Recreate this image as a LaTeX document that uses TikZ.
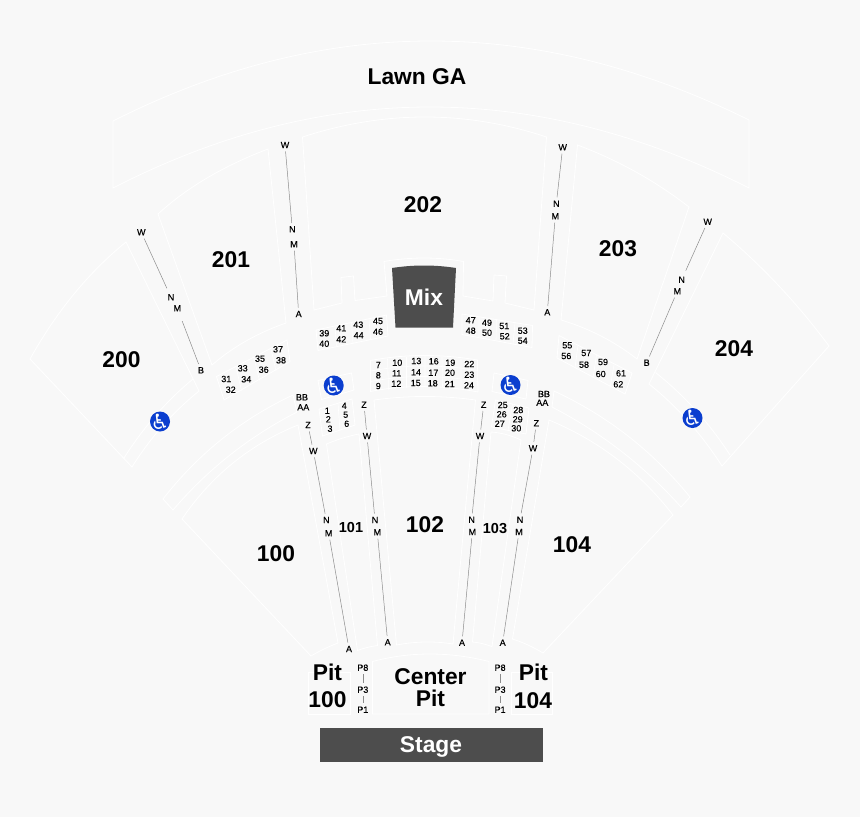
\documentclass[tikz,border=0pt]{standalone}
\usepackage{fontspec}
\setmainfont{Liberation Sans}
\newfontfamily\symfont{DejaVu Sans}
\newfontfamily\smallfont[FakeBold=0.25]{Liberation Sans}
\usetikzlibrary{calc}
\definecolor{pagebg}{HTML}{F8F8F8}
\definecolor{darkbox}{HTML}{4D4D4D}
\definecolor{adablue}{HTML}{0B3ECF}
\newcommand{\arcvia}[3]{.. controls ($1.3333*(#2)-0.3333*(#3)$) and ($1.3333*(#2)-0.3333*(#1)$) .. (#3)}
\newcommand{\adamark}{\makebox[0pt]{\smash{\raisebox{-7.5pt}{♿}}}}
\tikzset{
	outline/.style={draw=white,line width=0.8pt,line join=miter},
	divider/.style={draw=white,line width=0.6pt},
	aisle/.style={draw=black!45,line width=0.5pt},
	section/.style={font=\fontsize{22.8}{24}\bfseries\selectfont,inner sep=0pt,align=center},
	smallsection/.style={font=\fontsize{14.5}{16}\bfseries\selectfont,inner sep=0pt},
	seat/.style={font=\smallfont\fontsize{9}{9}\selectfont,inner sep=0pt},
	rowlabel/.style={font=\smallfont\fontsize{9}{9}\selectfont,inner sep=3pt},
	ada/.style={circle,fill=adablue,text=white,minimum size=20pt,inner sep=0pt,font=\symfont\fontsize{21}{21}\selectfont},
}
\begin{document}
\begin{tikzpicture}[x=1pt,y=-1pt]
	\fill[pagebg] (0,0) rectangle (860,817);
	\useasboundingbox (0,0) rectangle (860,817);
	% Lawn
	\draw[outline] (113,121) \arcvia{113,121}{430,41}{749,120} -- (749,188) \arcvia{749,188}{430,107}{113,188} -- cycle;
	% Upper sections
	\draw[outline] (302.5,137) \arcvia{302.5,137}{425,117}{546.5,137} -- (534,310) -- (505,303) -- (506.5,276) -- (494,275) -- (493,301) -- (463,296) -- (463.5,261.5) \arcvia{463.5,261.5}{424,258}{384,261.5} -- (387,296) -- (355,300.5) -- (353.5,276) -- (341,277.5) -- (342,303) -- (314,310) -- cycle;
	\draw[outline] (158,214) \arcvia{158,214}{207,178}{268,149} -- (286,323) \arcvia{286,323}{246,341}{212,365} -- cycle;
	\draw[outline] (577.5,145) \arcvia{577.5,145}{636,172}{689,207} -- (637,359) \arcvia{637,359}{601,336}{561,320} -- cycle;
	\draw[outline] (126,242) \arcvia{126,242}{74,294}{30,359} -- (132,467) \arcvia{132,467}{162.5,426}{199,391} -- cycle;
	\draw[outline] (193,379) \arcvia{193,379}{156,415}{124,458};
	\draw[outline] (723,233) \arcvia{723,233}{779,286}{829,346} -- (722,466) \arcvia{722,466}{688,421}{649,384} -- cycle;
	\draw[outline] (655.5,372.5) \arcvia{655.5,372.5}{696,410.5}{730,455};
	% Lower sections
	\draw[outline] (293,395) \arcvia{293,395}{222,439}{163,499} -- (173,510) \arcvia{173,510}{230,455}{297,412} -- cycle;
	\draw[outline] (554,391) \arcvia{554,391}{628,436}{690,497} -- (681,507) \arcvia{681,507}{621,451}{552,407} -- cycle;
	\draw[outline] (298,425) \arcvia{298,425}{233,463}{182,519} -- (311,656) \arcvia{311,656}{324,649}{338,643} -- cycle;
	\draw[outline] (549,420) \arcvia{549,420}{617,459}{673,515} -- (543,653) \arcvia{543,653}{528,645}{512.5,639} -- cycle;
	\draw[outline] (326.5,444) \arcvia{326.5,444}{343,438}{359,434} -- (377.5,645.5) \arcvia{377.5,645.5}{367,647.5}{357.5,650.5} -- cycle;
	\draw[outline] (491,432) \arcvia{491,432}{506,434.5}{521,440} -- (492,646.5) \arcvia{492,646.5}{482,643.5}{472.5,642} -- cycle;
	\draw[outline] (374,400) \arcvia{374,400}{425,396.5}{475.5,400} -- (453,644) \arcvia{453,644}{425,642}{396.5,645} -- cycle;
	% Pits
	\draw[outline] (372.5,714) -- (372.5,661.5) \arcvia{372.5,661.5}{430,654}{489,661.5} -- (489,714) -- cycle;
	\draw[outline] (308,672) rectangle (350,714);
	\draw[outline] (511.5,672) rectangle (552.5,714);
	% Seat blocks
	\draw[outline] (216.5,376.5) -- (287,340) -- (290,361.5) -- (224,400) -- cycle;
	\draw[divider] (236,367) -- (241.5,390.5) (254,358) -- (259.5,380.5) (271,349) -- (276,371);
	\draw[outline] (316,330) -- (386.5,315) -- (388,336) -- (318,350.5) -- cycle;
	\draw[divider] (335,326.5) -- (336.5,346.5) (351.5,323) -- (353,343) (369,319) -- (370.5,339);
	\draw[outline] (462,314) -- (532.5,325.5) -- (532,347.5) -- (462,334.5) -- cycle;
	\draw[divider] (479,316.5) -- (479,337) (496.5,319) -- (496,340) (515,323) -- (513,344);
	\draw[outline] (559,335.5) -- (632,373) -- (625,394) -- (557,358) -- cycle;
	\draw[divider] (578,345) -- (575,368) (596.5,355) -- (593,378) (614,365) -- (610,388);
	\draw[outline] (370.5,360.5) \arcvia{370.5,360.5}{423,355.5}{477.5,360} -- (478,392) \arcvia{478,392}{423,386.5}{370.5,391.5} -- cycle;
	\draw[divider] (371,371) \arcvia{371,371}{423,366}{478,370.5} (371,381.5) \arcvia{371,381.5}{423,376.5}{478,381.5};
	\draw[divider] (387.5,358.5) -- (388.5,389.5) (406.5,357) -- (406.5,387.5) (425,356) -- (425,386.5) (442,356.5) -- (442.5,387) (461,358.5) -- (461,389.5);
	\draw[outline] (319,409) -- (352,399) -- (355,425) -- (322.5,436) -- cycle;
	\draw[divider] (338,403.5) -- (340,430.5);
	\draw[outline] (495.5,400) -- (529,408) -- (526,434) -- (491.5,427) -- cycle;
	\draw[divider] (512.5,404) -- (508,430.5);
	\draw[outline] (318,380.5) -- (351.5,373) -- (354,390) -- (321.5,399.5) -- cycle;
	\draw[outline] (494,373) -- (528,380.5) -- (526,399) -- (492,391.5) -- cycle;
	% Dark boxes
	\fill[darkbox] (392,268) \arcvia{392,268}{424,265.5}{456,268} -- (453,327.5) -- (395.5,327.5) -- cycle;
	\path (424,297) node [section,text=white] (mix) {Mix};
	\fill[darkbox] (320,728) rectangle (542.5,761.5);
	\path (431,747) node [section,text=white] (stage) {Stage};
	% Section names
	\path (417,77) node [section] (lawn) {Lawn GA};
	\path (423,205) node [section] (sec202) {202};
	\path (231,260) node [section] (sec201) {201};
	\path (618,248.5) node [section] (sec203) {203};
	\path (121.5,359.5) node [section] (sec200) {200};
	\path (734,349) node [section] (sec204) {204};
	\path (276,554) node [section] (sec100) {100};
	\path (425,525) node [section] (sec102) {102};
	\path (572,544.5) node [section] (sec104) {104};
	\path (351,527.5) node [smallsection] (sec101) {101};
	\path (495,529) node [smallsection] (sec103) {103};
	\path (327.5,672.5) node [section] (pitl) {Pit};
	\path (327.5,700) node [section] (pitla) {100};
	\path (533.5,672.5) node [section] (pitr) {Pit};
	\path (533,700.5) node [section] (pitra) {104};
	\path (430.5,676.5) node [section] (centera) {Center};
	\path (430.5,698.5) node [section] (centerb) {Pit};
	% Seat numbers
	\foreach \x/\y/\n in {
		327.3/410.7/1,328.3/419.3/2,330/428.7/3,344.3/405.7/4,345.7/414.7/5,346.7/423.7/6,
		378.3/365/7,378.3/375.3/8,378.3/386/9,397.3/362.7/10,396.7/373.3/11,396.3/383.7/12,
		416.3/361/13,416/372.3/14,415.7/383/15,433.7/361.3/16,433.3/372.7/17,432.7/383.3/18,
		450.3/362.7/19,450/372.7/20,449.7/384/21,469.3/364/22,469.3/374.7/23,469/385.3/24,
		502.7/405/25,501.7/414.3/26,499.7/423.7/27,518.3/410/28,517.7/419.3/29,516.3/428.3/30,
		226.3/379/31,230.7/389.7/32,242.7/368.3/33,246.3/379.3/34,260/358.7/35,263.7/369.7/36,278/349.3/37,281/360.3/38,
		324.3/333.3/39,324.3/343.7/40,341.3/328.3/41,341.3/339.3/42,358.3/324.7/43,358.7/335.3/44,378/321/45,378/331.7/46,
		470.7/320.3/47,470.7/330.7/48,487/322.7/49,487/332.7/50,504.3/326/51,504.7/336.3/52,522.7/330.7/53,522.7/340.7/54,
		567.3/345.3/55,566.3/356/56,586.3/353/57,584/364.7/58,603/362/59,600.7/374/60,621/373.3/61,618.3/384.3/62}{
		\path (\x,\y) node [seat] (seat\n) {\n};
	}
	% Upper aisles
	\path (285,145) node [rowlabel] (wb) {W};
	\path (292.3,229.3) node [rowlabel] (nb) {N};
	\path (294,244.3) node [rowlabel] (mb) {M};
	\path (298.7,314) node [rowlabel] (ab) {A};
	\draw[aisle] (wb) -- (nb);
	\draw[aisle] (mb) -- (ab);
	\path (141.3,232.3) node [rowlabel] (wa) {W};
	\path (171,297.3) node [rowlabel] (na) {N};
	\path (177.3,308.3) node [rowlabel] (ma) {M};
	\path (201,370.3) node [rowlabel] (ba) {B};
	\draw[aisle,shorten >=3pt] (wa) -- (na);
	\draw[aisle,shorten <=7pt] (ma) -- (ba);
	\path (562.7,147.3) node [rowlabel] (wc) {W};
	\path (556.3,203.7) node [rowlabel] (nc) {N};
	\path (555.3,216.3) node [rowlabel] (mc) {M};
	\path (547.3,312.3) node [rowlabel] (ac) {A};
	\draw[aisle] (wc) -- (nc);
	\draw[aisle] (mc) -- (ac);
	\path (707.7,221.7) node [rowlabel] (wd) {W};
	\path (681.7,279.7) node [rowlabel] (nd) {N};
	\path (677.3,291.3) node [rowlabel] (md) {M};
	\path (646.7,362.7) node [rowlabel] (bd) {B};
	\draw[aisle,shorten >=3pt] (wd) -- (nd);
	\draw[aisle] (md) -- (bd);
	% Lower aisles
	\path (302,397.3) node [rowlabel] (bbl) {BB};
	\path (303.3,407.3) node [rowlabel] (aal) {AA};
	\path (544,394) node [rowlabel] (bbr) {BB};
	\path (542.3,402.7) node [rowlabel] (aar) {AA};
	\foreach \s/\zx/\zy/\wx/\wy/\nx/\ny/\mx/\my/\ax/\ay in {
		e/308/425/313.3/451/326.3/520/328.7/533.3/349/649,
		f/364/404.7/367/436/375/520/377.3/532.3/387.7/642.3,
		g/483.7/404.7/480/436/471.7/519.7/472.3/532/462/642.7,
		h/536.3/423.3/533/448.3/520/519.7/519/532/502.7/642.7}{
		\path (\zx,\zy) node [rowlabel] (z\s) {Z};
		\path (\wx,\wy) node [rowlabel] (w\s) {W};
		\path (\nx,\ny) node [rowlabel] (n\s) {N};
		\path (\mx,\my) node [rowlabel] (m\s) {M};
		\path (\ax,\ay) node [rowlabel] (a\s) {A};
		\draw[aisle] (z\s) -- (w\s);
		\draw[aisle] (w\s) -- (n\s);
		\draw[aisle] (m\s) -- (a\s);
	}
	% Pit rows
	\foreach \s/\x in {l/362.8,r/500.1}{
		\path (\x,667.7) node [rowlabel] (peight\s) {P8};
		\path (\x,689.7) node [rowlabel] (pthree\s) {P3};
		\path (\x,709.7) node [rowlabel] (pone\s) {P1};
		\draw[aisle] (peight\s) -- (pthree\s);
		\draw[aisle] (pthree\s) -- (pone\s);
	}
	% Wheelchair marks
	\path (333.7,385.5) node [ada] (adaa) {\adamark};
	\path (510.5,385) node [ada] (adab) {\adamark};
	\path (160,421.5) node [ada] (adac) {\adamark};
	\path (692.5,418) node [ada] (adad) {\adamark};
\end{tikzpicture}
\end{document}
